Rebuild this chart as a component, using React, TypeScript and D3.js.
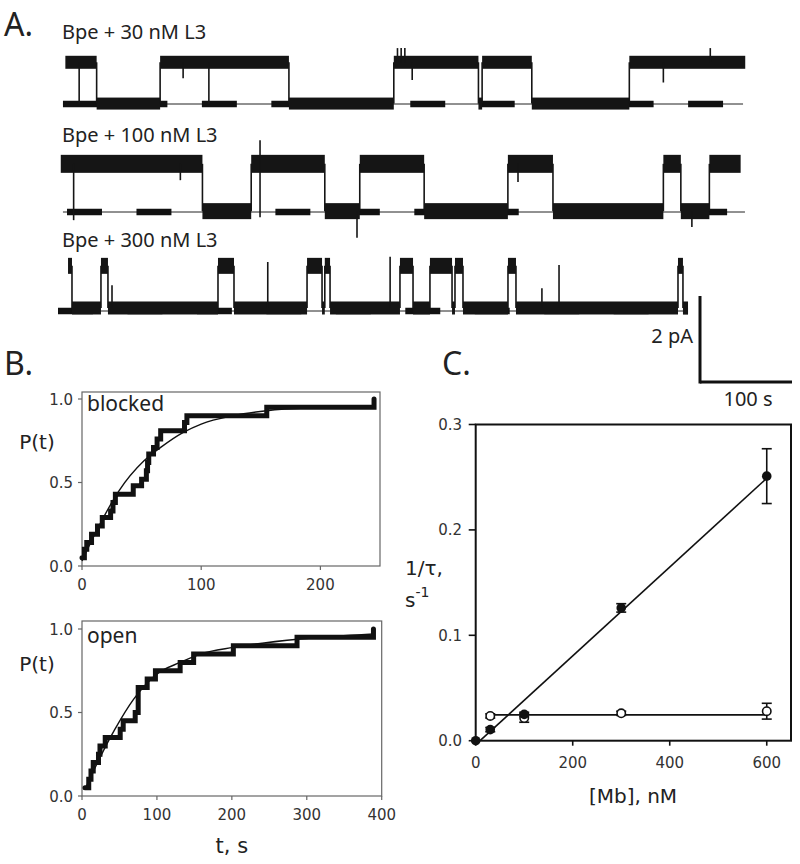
import React from "react";
import * as d3 from "d3";

// ---- Panel A: single-channel records (transition times in s, levels in pA)
const trace1Times = [8, 42, 111, 251, 365, 457, 461, 515, 621, 747];
const trace1States = ["O", "B", "O", "B", "O", "B", "O", "B", "O"];
const trace1Spikes = [
  [23, 0, 0.97], [136, 0.6, 0.97], [164, 0, 0.97], [369, 0.97, 1.3], [373, 0.97, 1.3],
  [377, 0.97, 1.3], [385, 0.56, 0.97], [658, 0.5, 0.97], [709, 0.97, 1.3],
];

const trace2Times = [3, 157, 210, 290, 328, 398, 489, 538, 658, 677, 708, 742];
const trace2States = ["O", "B", "O", "B", "O", "B", "O", "B", "O", "B", "O"];
const trace2Spikes = [
  [17, -0.19, 1.12], [133, 0.74, 1.12], [219.6, -0.12, 1.67], [325, -0.6, 0.02],
  [500, 0.7, 1.12], [689, -0.35, 0.02],
];

const trace3Times = [
  10.9, 15.2, 46.7, 54.3, 173.9, 191.3, 270.7, 287, 290, 295.7, 371.7, 385.9, 404.3,
  428.3, 431.5, 440.2, 489.1, 497.8, 673.9, 679.3, 684.8,
];
const trace3States = [
  "O", "B", "O", "B", "O", "B", "O", "B", "O", "B",
  "O", "B", "O", "B", "O", "B", "O", "B", "O", "B",
];
const trace3Spikes = [
  [58.7, 0.07, 0.6], [228, 0.07, 1.14], [361, 0.07, 1.26], [526, 0.07, 0.53], [544.6, 0.07, 1.07],
];

// ---- Panel B: cumulative dwell-time distributions
const blockedT = [0, 2, 4, 8, 13, 17, 24, 26, 28, 43, 50, 54, 55, 56, 60, 63, 66, 86, 88, 155, 245];
const blockedP = [0.05, 0.1, 0.14, 0.19, 0.24, 0.29, 0.33, 0.38, 0.43, 0.48, 0.52, 0.57, 0.62, 0.67, 0.71, 0.76, 0.81, 0.86, 0.9, 0.95, 1.0];
const blockedFitT = [0, 15, 31, 52, 66, 85, 100, 127, 155, 200, 245];
const blockedFitP = [0.03, 0.25, 0.45, 0.63, 0.71, 0.8, 0.85, 0.9, 0.93, 0.95, 0.96];

const openT = [4, 9, 12, 15, 22, 24, 31, 51, 55, 71, 75, 87, 98, 131, 149, 202, 287, 389];
const openP = [0.05, 0.1, 0.15, 0.2, 0.25, 0.3, 0.35, 0.4, 0.45, 0.5, 0.65, 0.7, 0.75, 0.8, 0.85, 0.9, 0.95, 1.0];
const openFitT = [4, 24, 44, 69, 100, 131, 158, 202, 291, 389];
const openFitP = [0.04, 0.23, 0.4, 0.58, 0.73, 0.8, 0.85, 0.89, 0.94, 0.97];

// ---- Panel C: rates vs concentration
const concFilled = [0, 30, 100, 300, 600];
const rateFilled = [0, 0.0105, 0.025, 0.126, 0.251];
const errFilled = [0, 0.002, 0.002, 0.004, 0.026];
const concOpen = [30, 100, 300, 600];
const rateOpen = [0.0235, 0.0215, 0.026, 0.028];
const errOpen = [0.002, 0.004, 0.002, 0.0075];
const fitFilled = [[9, 0], [600, 0.249]];
const fitOpen = [[30, 0.0245], [600, 0.0245]];

const LABEL_FONT = "'Noto Sans', sans-serif";
const TICK_FONT = "'DejaVu Sans', sans-serif";

const tx = d3.scaleLinear().domain([0, 100]).range([58, 150]);
const PX_PER_PA = 43;

const rows = [
  { label: "Bpe + 30 nM L3", labelY: 39, base: 104, times: trace1Times, states: trace1States, spikes: trace1Spikes, open: 0.97, low: 0.01, bandO: 13, bandB: 12, lineFrom: 5.4, lineTo: 744.6, dashFrom: 5.4 },
  { label: "Bpe + 100 nM L3", labelY: 142, base: 212, times: trace2Times, states: trace2States, spikes: trace2Spikes, open: 1.12, low: 0.02, bandO: 18, bandB: 16, lineFrom: 5.4, lineTo: 746.7, dashFrom: 9.8 },
  { label: "Bpe + 300 nM L3", labelY: 247, base: 311, times: trace3Times, states: trace3States, spikes: trace3Spikes, open: 1.05, low: 0.07, bandO: 16, bandB: 13, lineFrom: 0, lineTo: 684.8, dashFrom: 0 },
];

function Trace({ row }) {
  const ys = d3.scaleLinear().domain([0, 1]).range([row.base, row.base - PX_PER_PA]);
  const dash = tx(38) - tx(0);
  const gap = tx(37.5) - tx(0);
  return (
    <g>
      <text x={62} y={row.labelY} fontFamily={LABEL_FONT} fontSize={20} fill="#222">{row.label}</text>
      <line x1={tx(row.lineFrom)} x2={tx(row.lineTo)} y1={row.base} y2={row.base} stroke="#222" strokeWidth={1} />
      <line x1={tx(row.dashFrom)} x2={tx(row.lineTo)} y1={row.base} y2={row.base} stroke="#111" strokeWidth={6.5} strokeDasharray={`${dash} ${gap}`} />
      {row.states.map((s, i) => {
        const lvl = s === "O" ? row.open : row.low;
        const band = s === "O" ? row.bandO : row.bandB;
        const x0 = tx(row.times[i]);
        const x1 = tx(row.times[i + 1]);
        return <rect key={"s" + i} x={x0} width={x1 - x0} y={ys(lvl) - band / 2} height={band} fill="#151515" />;
      })}
      {row.states.slice(1).map((s, i) => (
        <line key={"v" + i} x1={tx(row.times[i + 1])} x2={tx(row.times[i + 1])} y1={ys(row.open)} y2={ys(row.low)} stroke="#151515" strokeWidth={1.6} />
      ))}
      {row.spikes.map(([t, a, b], i) => (
        <line key={"k" + i} x1={tx(t)} x2={tx(t)} y1={ys(a)} y2={ys(b)} stroke="#151515" strokeWidth={1.6} />
      ))}
    </g>
  );
}

function CdfPlot({ x, y, top, label, labelY, pY, steps, fit, xTicks, xTitle }) {
  const [x0, x1] = x.range();
  const yBottom = y(0);
  const stepLine = d3.line().x((d) => x(d[0])).y((d) => y(d[1])).curve(d3.curveStepAfter);
  const fitLine = d3.line().x((d) => x(d[0])).y((d) => y(d[1])).curve(d3.curveMonotoneX);
  return (
    <g>
      <rect x={x0} y={top} width={x1 - x0} height={yBottom - top} fill="none" stroke="#666" strokeWidth={1.2} />
      {[0, 0.5, 1].map((v) => (
        <g key={v}>
          <line x1={x0 - 4} x2={x0} y1={y(v)} y2={y(v)} stroke="#666" strokeWidth={1.2} />
          <text x={x0 - 9} y={y(v) + 5.5} textAnchor="end" fontFamily={TICK_FONT} fontSize={15} fill="#333">{d3.format(".1f")(v)}</text>
        </g>
      ))}
      {xTicks.map((v) => (
        <g key={v}>
          <line x1={x(v)} x2={x(v)} y1={yBottom} y2={yBottom + 4} stroke="#666" strokeWidth={1.2} />
          <text x={x(v)} y={yBottom + 24} textAnchor="middle" fontFamily={TICK_FONT} fontSize={15} fill="#333">{v}</text>
        </g>
      ))}
      <path d={fitLine(fit)} fill="none" stroke="#111" strokeWidth={1.4} />
      <path d={stepLine(steps)} fill="none" stroke="#111" strokeWidth={5} strokeLinejoin="miter" strokeLinecap="round" />
      <text x={x0 + 5} y={labelY} fontFamily={LABEL_FONT} fontSize={21} fill="#222">{label}</text>
      <text x={37} y={pY} textAnchor="middle" fontFamily={TICK_FONT} fontSize={20} fill="#222">P(t)</text>
      {xTitle && (
        <text x={(x0 + x1) / 2} y={853} textAnchor="middle" fontFamily={TICK_FONT} fontSize={21} fill="#222">{xTitle}</text>
      )}
    </g>
  );
}

export default function App() {
  const bTopX = d3.scaleLinear().domain([0, 250]).range([82, 380]);
  const bTopY = d3.scaleLinear().domain([0, 1]).range([566, 399]);
  const bBotX = d3.scaleLinear().domain([0, 400]).range([82, 381.7]);
  const bBotY = d3.scaleLinear().domain([0, 1]).range([796, 629]);

  const cX = d3.scaleLinear().domain([0, 650]).range([475.7, 791]);
  const cY = d3.scaleLinear().domain([0, 0.3]).range([740.7, 424.5]);
  const fitPath = d3.line().x((d) => cX(d[0])).y((d) => cY(d[1]));

  const scaleX0 = 700;
  const scaleY1 = 382;

  const errBar = (cx, v, e, key) =>
    e > 0.001 ? (
      <g key={key} stroke="#111" strokeWidth={1.6}>
        <line x1={cX(cx)} x2={cX(cx)} y1={cY(v - e)} y2={cY(v + e)} />
        <line x1={cX(cx) - 5} x2={cX(cx) + 5} y1={cY(v - e)} y2={cY(v - e)} />
        <line x1={cX(cx) - 5} x2={cX(cx) + 5} y1={cY(v + e)} y2={cY(v + e)} />
      </g>
    ) : null;

  return (
    <svg width={800} height={864} style={{ position: "absolute", left: 0, top: 0, background: "#fff" }}>
      {/* Panel letters */}
      <text x={4} y={36} fontFamily={LABEL_FONT} fontSize={32} fill="#222">A.</text>
      <text x={4} y={375} fontFamily={LABEL_FONT} fontSize={32} fill="#222">B.</text>
      <text x={442} y={375} fontFamily={LABEL_FONT} fontSize={32} fill="#222">C.</text>

      {rows.map((r, i) => <Trace key={i} row={r} />)}

      {/* scale bars: 2 pA, 100 s */}
      <line x1={scaleX0} x2={scaleX0} y1={scaleY1 - 2 * PX_PER_PA} y2={scaleY1 + 1.5} stroke="#111" strokeWidth={3} />
      <line x1={scaleX0} x2={scaleX0 + (tx(100) - tx(0))} y1={scaleY1} y2={scaleY1} stroke="#111" strokeWidth={3} />
      <text x={693} y={343} textAnchor="end" fontFamily={LABEL_FONT} fontSize={20} fill="#222">2 pA</text>
      <text x={748} y={406} textAnchor="middle" fontFamily={LABEL_FONT} fontSize={20} fill="#222">100 s</text>

      {/* Panel B */}
      <CdfPlot
        x={bTopX} y={bTopY} top={392} label="blocked" labelY={411} pY={449}
        steps={blockedT.map((t, i) => [t, blockedP[i]])}
        fit={blockedFitT.map((t, i) => [t, blockedFitP[i]])}
        xTicks={[0, 100, 200]}
      />
      <CdfPlot
        x={bBotX} y={bBotY} top={621} label="open" labelY={643} pY={671}
        steps={openT.map((t, i) => [t, openP[i]])}
        fit={openFitT.map((t, i) => [t, openFitP[i]])}
        xTicks={[0, 100, 200, 300, 400]}
        xTitle="t, s"
      />

      {/* Panel C */}
      <rect x={cX(0)} y={cY(0.3)} width={cX(650) - cX(0)} height={cY(0) - cY(0.3)} fill="none" stroke="#111" strokeWidth={2} />
      {[0, 0.1, 0.2, 0.3].map((v) => (
        <g key={v}>
          <line x1={cX(0) - 7} x2={cX(0)} y1={cY(v)} y2={cY(v)} stroke="#111" strokeWidth={1.6} />
          <text x={462} y={cY(v) + 5.5} textAnchor="end" fontFamily={TICK_FONT} fontSize={15} fill="#333">{d3.format(".1f")(v)}</text>
        </g>
      ))}
      {[0, 200, 400, 600].map((v) => (
        <g key={v}>
          <line x1={cX(v)} x2={cX(v)} y1={cY(0)} y2={cY(0) + 5} stroke="#111" strokeWidth={1.6} />
          <text x={cX(v)} y={768} textAnchor="middle" fontFamily={TICK_FONT} fontSize={15} fill="#333">{v}</text>
        </g>
      ))}
      <text x={633} y={803} textAnchor="middle" fontFamily={TICK_FONT} fontSize={20} fill="#222">[Mb], nM</text>
      <text x={405} y={575} fontFamily={TICK_FONT} fontSize={20} fill="#222">1/τ,</text>
      <text x={405} y={607} fontFamily={TICK_FONT} fontSize={20} fill="#222">
        s<tspan dy={-10} fontSize={14}>-1</tspan>
      </text>

      <path d={fitPath(fitFilled)} fill="none" stroke="#111" strokeWidth={1.6} />
      <path d={fitPath(fitOpen)} fill="none" stroke="#111" strokeWidth={1.6} />
      {concOpen.map((c, i) => errBar(c, rateOpen[i], errOpen[i], "eo" + i))}
      {concFilled.map((c, i) => errBar(c, rateFilled[i], errFilled[i], "ef" + i))}
      {concOpen.map((c, i) => (
        <circle key={"o" + i} cx={cX(c)} cy={cY(rateOpen[i])} r={4.2} fill="#fff" stroke="#111" strokeWidth={1.6} />
      ))}
      {concFilled.map((c, i) => (
        <circle key={"f" + i} cx={cX(c)} cy={cY(rateFilled[i])} r={4.8} fill="#111" />
      ))}
    </svg>
  );
}
